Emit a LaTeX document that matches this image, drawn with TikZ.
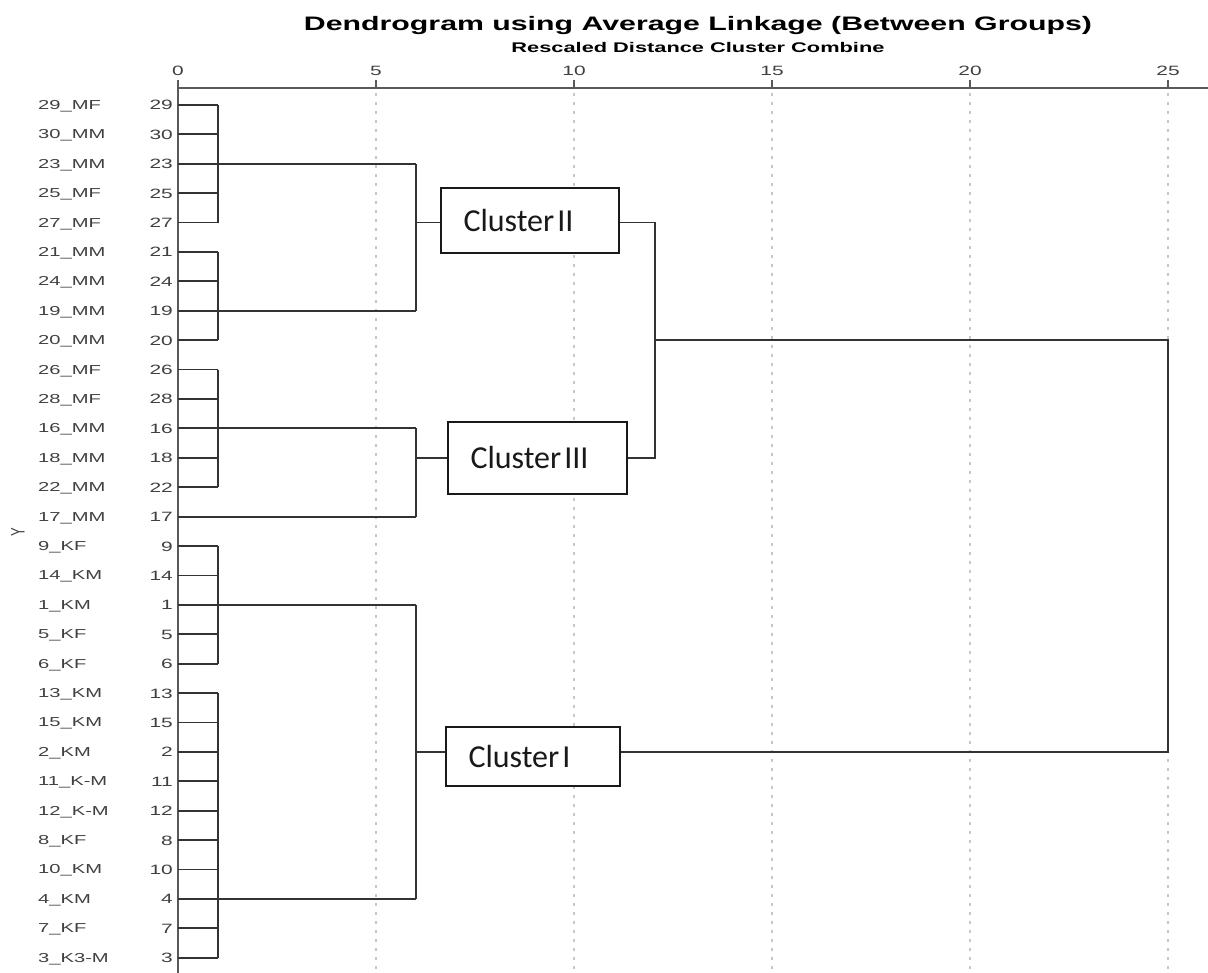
\documentclass[tikz,border=0pt]{standalone}
\usepackage{fontspec}
\setmainfont{Liberation Sans}
\newfontfamily\clusterfont{Carlito}
\usetikzlibrary{positioning}

% SPSS output is stretched sideways
\newcommand{\spss}[1]{\scalebox{1.55}[1]{#1}}

\begin{document}
\begin{tikzpicture}[x=1pt,y=1pt,
		tree/.style={line width=1.8pt,draw=black!80},
		axisline/.style={line width=2.6pt,draw=black!65},
		gridline/.style={line width=1.3pt,draw=black!22,dash pattern=on 3pt off 6pt},
		leafname/.style={anchor=base west,inner sep=0pt,text=black!75,font=\fontsize{13}{15}\selectfont},
		leafnum/.style={anchor=base east,inner sep=0pt,text=black!75,font=\fontsize{13.5}{15}\selectfont},
		ticklabel/.style={anchor=base,inner sep=0pt,text=black!75,font=\fontsize{13.5}{15}\selectfont},
		clusterbox/.style={draw=black!90,fill=white,line width=1.6pt,inner xsep=22.5pt,inner ysep=0pt,align=left,text=black!90,font=\clusterfont\fontsize{32}{36}\selectfont}]
		\useasboundingbox (0,0) rectangle (1208,-973);
		
		\coordinate (d1)  at (218,0);
		\coordinate (d6)  at (416,0);
		\coordinate (d12) at (655,0);
		\coordinate (d25) at (1168,0);
		
		% Titles
		\node[anchor=base,inner sep=0pt] (title) at (698,-30.7)
			{\resizebox{788pt}{\height}{\fontsize{19.5}{22}\selectfont\bfseries Dendrogram using Average Linkage (Between Groups)}};
		\node[anchor=base,inner sep=0pt] (subtitle) at (698,-53)
			{\resizebox{373pt}{\height}{\fontsize{14}{16}\selectfont\bfseries Rescaled Distance Cluster Combine}};
		\node[rotate=90,inner sep=0pt,text=black!75,font=\fontsize{13}{15}\selectfont] (ylab) at (18,-532) {\scalebox{1}[1.5]{Y}};
		
		% Draw grid and axes
		\foreach \k in {5,10,...,25}{
			\draw[gridline] (178+39.6*\k,-93) -- (178+39.6*\k,-973);
		}
		\draw[axisline] (178,-88) -- (1208,-88);
		\draw[axisline] (178,-80) -- (178,-973);
		\foreach \k in {0,5,...,25}{
			\draw[line width=1.5pt,draw=black!65] (178+39.6*\k,-80) -- ++(0,-8);
			\node[ticklabel] (t\k) at (178+39.6*\k,-76) {\spss{\k}};
		}
		
		% Leaves
		\foreach \lab/\num [count=\i from 0] in {29\_MF/29, 30\_MM/30, 23\_MM/23, 25\_MF/25, 27\_MF/27,
				21\_MM/21, 24\_MM/24, 19\_MM/19, 20\_MM/20, 26\_MF/26, 28\_MF/28, 16\_MM/16, 18\_MM/18,
				22\_MM/22, 17\_MM/17, 9\_KF/9, 14\_KM/14, 1\_KM/1, 5\_KF/5, 6\_KF/6, 13\_KM/13, 15\_KM/15,
				2\_KM/2, 11\_K-M/11, 12\_K-M/12, 8\_KF/8, 10\_KM/10, 4\_KM/4, 7\_KF/7, 3\_K3-M/3}{
			\pgfmathsetmacro\yy{-105-29.4*\i}
			\coordinate (c\i) at (178,\yy);
			\node[leafname] (l\i) at (38,\yy-4.5) {\spss{\lab}};
			\node[leafnum] (n\i) at (173,\yy-5) {\spss{\num}};
		}
		\foreach \i in {0,...,13,15,16,...,29}{
			\draw[tree] (c\i) -- (d1 |- c\i);
		}
		\draw[tree] (c14) -- (d6 |- c14);
		
		% Merges
		\foreach \a/\b in {0/4, 5/8, 9/13, 15/19, 20/29}{
			\draw[tree] (d1 |- c\a) -- (d1 |- c\b);
		}
		\foreach \r in {2,7,11,17,27}{
			\draw[tree] (d1 |- c\r) -- (d6 |- c\r);
		}
		\foreach \a/\b in {2/7, 11/14, 17/27}{
			\draw[tree] (d6 |- c\a) -- (d6 |- c\b);
		}
		
		% Cluster boxes
		\node[clusterbox,text width=133pt,minimum height=65pt] (clII) at (530,-220.5) {Cluster\hspace{3pt}II};
		\node[clusterbox,text width=134pt,minimum height=72pt] (clIII) at (537.5,-458) {Cluster\hspace{3pt}III};
		\node[clusterbox,text width=129pt,minimum height=59pt] (clI) at (533,-756.5) {Cluster\hspace{3pt}I};
		
		\draw[tree] (d6 |- c4) -- (clII.west |- c4);
		\draw[tree] (d6 |- c12) -- (clIII.west |- c12);
		\draw[tree] (d6 |- c22) -- (clI.west |- c22);
		\draw[tree] (clII.east |- c4) -- (d12 |- c4) -- (d12 |- c12) -- (clIII.east |- c12);
		\draw[tree] (d12 |- c8) -- (d25 |- c8) -- (d25 |- c22) -- (clI.east |- c22);
	\end{tikzpicture}
\end{document}
